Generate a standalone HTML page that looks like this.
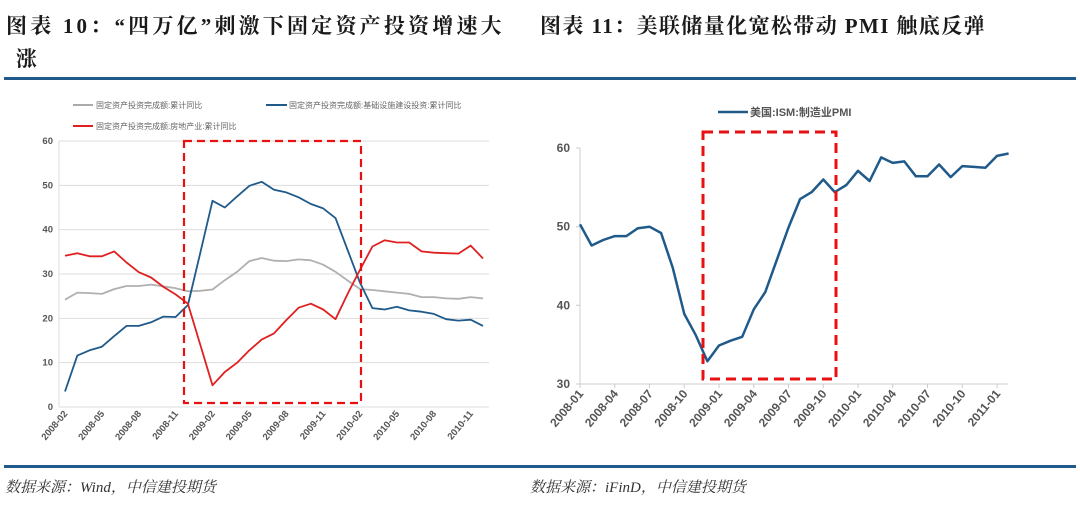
<!DOCTYPE html>
<html><head><meta charset="utf-8"><style>
body{margin:0;background:#fff;width:1080px;height:506px;overflow:hidden}
svg{display:block}
.t{font-family:"Liberation Serif","Noto Serif CJK SC",serif;font-weight:bold;font-size:21px;fill:#1a1a1a;letter-spacing:1px}
.s{font-family:"Liberation Serif","Noto Serif CJK SC",serif;font-style:italic;font-size:15px;fill:#333}
.ax{font-family:"Liberation Sans","Noto Sans CJK SC",sans-serif;font-size:9.5px;fill:#555;font-weight:bold}
.ax2{font-family:"Liberation Sans","Noto Sans CJK SC",sans-serif;font-size:12px;fill:#555;font-weight:bold}
.lg{font-family:"Liberation Sans","Noto Sans CJK SC",sans-serif;font-size:8px;fill:#666}
</style></head><body>
<svg id="s" width="1080" height="506" xmlns="http://www.w3.org/2000/svg">
<text class="t" x="6" y="33" style="letter-spacing:3.2px">图表 10：“四万亿”刺激下固定资产投资增速大</text>
<text class="t" x="16" y="66">涨</text>
<text class="t" x="540" y="33" style="letter-spacing:1.4px">图表 11：美联储量化宽松带动 PMI 触底反弹</text>
<rect x="4" y="77" width="1072" height="3" fill="#1f5a8a"/>
<rect x="4" y="465" width="1072" height="3" fill="#1f5a8a"/>
<text class="s" x="5" y="492">数据来源：Wind，中信建投期货</text>
<text class="s" x="530" y="492">数据来源：iFinD，中信建投期货</text>
<line x1="73" y1="105" x2="93" y2="105" stroke="#aaa" stroke-width="2"/>
<text class="lg" x="96" y="108">固定资产投资完成额:累计同比</text>
<line x1="266" y1="105" x2="287" y2="105" stroke="#1f5a8a" stroke-width="2"/>
<text class="lg" x="289" y="108">固定资产投资完成额:基础设施建设投资:累计同比</text>
<line x1="73" y1="126" x2="93" y2="126" stroke="#e02020" stroke-width="2"/>
<text class="lg" x="96" y="129">固定资产投资完成额:房地产业:累计同比</text>
<line x1="718" y1="112" x2="748" y2="112" stroke="#1f5a8a" stroke-width="2.5"/>
<text class="ax2" x="750" y="116" style="font-size:11px">美国:ISM:制造业PMI</text>
<g id="g"></g>
</svg>
<script>
var g=document.getElementById('g'),h='';
var L0=59,L1=489,Y0=407,k=266/60;
for(var v=0;v<=60;v+=10){var y=Y0-v*k;h+='<line x1="'+L0+'" y1="'+y+'" x2="'+L1+'" y2="'+y+'" stroke="#ddd" stroke-width="1"/>';h+='<text class="ax" x="'+(L0-6)+'" y="'+(y+3)+'" text-anchor="end">'+v+'</text>';}
h+='<line x1="'+L0+'" y1="141" x2="'+L0+'" y2="407" stroke="#ddd"/>';
var lx=function(i){return 65+i*418/34};
var labs=['2008-02','2008-05','2008-08','2008-11','2009-02','2009-05','2009-08','2009-11','2010-02','2010-05','2010-08','2010-11'];
labs.forEach(function(t,j){var x=lx(j*3);h+='<text class="ax" transform="translate('+(x+3)+',414) rotate(-50)" text-anchor="end">'+t+'</text>';});
var gray=[24.2,25.8,25.7,25.5,26.6,27.3,27.3,27.6,27.2,26.8,26.1,26.2,26.5,28.6,30.5,32.9,33.6,33.0,32.9,33.3,33.1,32.1,30.5,28.5,26.6,26.4,26.1,25.8,25.5,24.8,24.8,24.5,24.4,24.8,24.5];
var blue=[3.5,11.6,12.8,13.6,16.0,18.3,18.3,19.1,20.4,20.3,23.0,34.7,46.5,45.0,47.5,49.9,50.8,49.0,48.4,47.3,45.8,44.8,42.6,35.3,28.0,22.3,22.0,22.6,21.8,21.5,21.0,19.8,19.5,19.7,18.3];
var red=[34.1,34.7,34.0,34.0,35.1,32.6,30.4,29.2,27.1,25.4,23.3,14.1,4.9,7.9,10.0,12.8,15.2,16.6,19.6,22.4,23.3,22.0,19.8,25.6,31.0,36.2,37.6,37.1,37.1,35.1,34.8,34.7,34.6,36.4,33.5];
function pl(a,fx,y0,kk,c,w){return '<polyline fill="none" stroke="'+c+'" stroke-width="'+w+'" stroke-linejoin="round" points="'+a.map(function(v,i){return fx(i).toFixed(1)+','+(y0-v*kk).toFixed(1)}).join(' ')+'"/>';}
h+=pl(gray,lx,Y0,k,'#b0b0b0',1.8)+pl(blue,lx,Y0,k,'#1f5a8a',1.8)+pl(red,lx,Y0,k,'#e02020',1.8);
h+='<rect x="184" y="141" width="177" height="262" fill="none" stroke="#e81010" stroke-width="2.2" stroke-dasharray="8,5"/>';
var R0=580,R1=1008,RY=384,rk=236/30;
for(var v=30;v<=60;v+=10){var y=RY-(v-30)*rk;h+='<text class="ax2" x="'+(R0-10)+'" y="'+(y+4)+'" text-anchor="end">'+v+'</text>';h+='<line x1="'+(R0-4)+'" y1="'+y+'" x2="'+R0+'" y2="'+y+'" stroke="#ccc"/>';}
h+='<line x1="'+R0+'" y1="148" x2="'+R0+'" y2="'+RY+'" stroke="#ccc"/><line x1="'+R0+'" y1="'+RY+'" x2="'+R1+'" y2="'+RY+'" stroke="#ccc"/>';
var rx=function(i){return 580+i*417/36};
var rl=['2008-01','2008-04','2008-07','2008-10','2009-01','2009-04','2009-07','2009-10','2010-01','2010-04','2010-07','2010-10','2011-01'];
rl.forEach(function(t,j){var x=rx(j*3);h+='<line x1="'+x+'" y1="'+RY+'" x2="'+x+'" y2="'+(RY+4)+'" stroke="#ccc"/>';h+='<text class="ax2" transform="translate('+(x+4)+',394) rotate(-50)" text-anchor="end">'+t+'</text>';});
var pmi=[50.3,47.6,48.3,48.8,48.8,49.8,50.0,49.2,44.8,38.9,36.2,32.9,34.9,35.5,36.0,39.5,41.7,45.8,49.9,53.5,54.4,56.0,54.4,55.3,57.1,55.8,58.8,58.1,58.3,56.4,56.4,57.9,56.3,57.7,57.6,57.5,59.0,59.3];
h+=pl(pmi.map(function(v){return v-30}),rx,RY,rk,'#1f5a8a',2.5);
h+='<rect x="703" y="132" width="133" height="247" fill="none" stroke="#e81010" stroke-width="3" stroke-dasharray="10,6"/>';
g.innerHTML=h;
</script>
</body></html>
